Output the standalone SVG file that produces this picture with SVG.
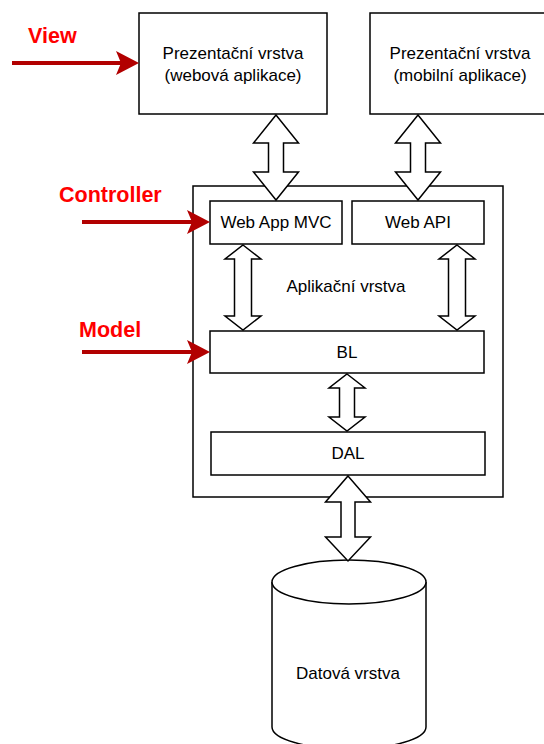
<svg xmlns="http://www.w3.org/2000/svg" width="544" height="744" viewBox="0 0 544 744">
<style>
  .box { fill: #fff; stroke: #000; stroke-width: 1.5; }
  .dbl { fill: #fff; stroke: #000; stroke-width: 1.5; stroke-linejoin: miter; }
  .t { font-family: "Liberation Sans", Arial, sans-serif; font-size: 17px; fill: #000; text-anchor: middle; }
  .lbl { font-family: "Liberation Sans", Arial, sans-serif; font-size: 21.5px; font-weight: bold; fill: #FF0000; }
  .rl { stroke: #B20000; stroke-width: 4; fill: none; }
  .rh { fill: #B20000; stroke: none; }
</style>
<rect width="544" height="744" fill="#fff"/>
<g id="app-layer">
  <rect class="box" x="193" y="186" width="310" height="311"/>
  <text class="t" x="346" y="292">Aplikační vrstva</text>
</g>
<g id="pres-web">
  <rect class="box" x="139" y="13" width="188" height="101"/>
  <text class="t" x="233" y="59">Prezentační vrstva</text>
  <text class="t" x="233" y="81">(webová aplikace)</text>
</g>
<g id="pres-mobile">
  <rect class="box" x="370" y="13" width="182" height="101"/>
  <text class="t" x="460" y="59">Prezentační vrstva</text>
  <text class="t" x="460" y="81">(mobilní aplikace)</text>
</g>
<g id="webapp-mvc">
  <rect class="box" x="210" y="201" width="132" height="43"/>
  <text class="t" x="276" y="228">Web App MVC</text>
</g>
<g id="web-api">
  <rect class="box" x="352" y="201" width="132" height="43"/>
  <text class="t" x="418" y="228">Web API</text>
</g>
<g id="bl">
  <rect class="box" x="210" y="331" width="274" height="42"/>
  <text class="t" x="347" y="358">BL</text>
</g>
<g id="dal">
  <rect class="box" x="211" y="432" width="274" height="43"/>
  <text class="t" x="348" y="459">DAL</text>
</g>
<g id="db">
  <path class="box" d="M272,582 a77,22 0 0 1 154,0 v145 a77,22 0 0 1 -154,0 z"/>
  <path class="box" fill="none" d="M272,582 a77,22 0 0 0 154,0"/>
  <text class="t" x="348" y="679">Datová vrstva</text>
</g>
<g id="labels">
  <text class="lbl" x="28" y="43">View</text>
  <text class="lbl" x="59" y="202">Controller</text>
  <text class="lbl" x="79" y="337">Model</text>
</g>
<g id="connectors">
  <polygon class="dbl" points="276,115 298.5,143 283.5,143 283.5,172 298.5,172 276,200 253.5,172 268.5,172 268.5,143 253.5,143"/>
  <polygon class="dbl" points="418,115 440.5,143 425.5,143 425.5,172 440.5,172 418,200 395.5,172 410.5,172 410.5,143 395.5,143"/>
  <polygon class="dbl" points="243,245 261,259 251.5,259 251.5,316 261,316 243,330 225,316 234.5,316 234.5,259 225,259"/>
  <polygon class="dbl" points="457,245 475,259 465.5,259 465.5,316 475,316 457,330 439,316 448.5,316 448.5,259 439,259"/>
  <polygon class="dbl" points="347,374 365,388 354.5,388 354.5,417 365,417 347,431 329,417 339.5,417 339.5,388 329,388"/>
  <polygon class="dbl" points="348,476 370.5,502 355,502 355,537 370.5,537 348,561 325.5,537 341,537 341,502 325.5,502"/>
  <line class="rl" x1="12" y1="63" x2="122" y2="63"/>
  <polygon class="rh" points="139,63 116,51 121,63 116,75"/>
  <line class="rl" x1="82" y1="222" x2="193" y2="222"/>
  <polygon class="rh" points="210,222 187,210 192,222 187,234"/>
  <line class="rl" x1="82" y1="352" x2="193" y2="352"/>
  <polygon class="rh" points="210,352 187,340 192,352 187,364"/>
</g>
</svg>
